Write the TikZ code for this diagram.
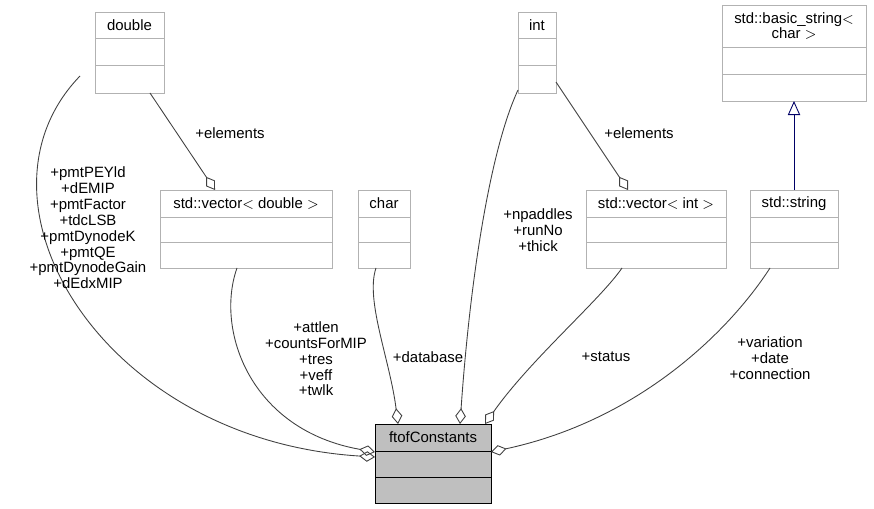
\documentclass[tikz,border=0pt]{standalone}
\usepackage{fontspec}
\setmainfont{Liberation Sans}
\usetikzlibrary{arrows.meta,calc,positioning}
\tikzset{
  cls/.style={draw=black!30, fill=white, inner sep=0pt, line width=0.5pt},
  main/.style={draw=black, fill=black!25, inner sep=0pt, line width=0.5pt},
  sep/.style={draw=black!30, line width=0.5pt},
  mainsep/.style={draw=black, line width=0.5pt},
  use/.style={draw=black!75, line width=0.5pt, {Diamond[open,length=9pt,width=6pt]}-},
  inherit/.style={draw=blue!40!black, line width=0.5pt, -{Triangle[open,length=8pt,width=7pt]}},
  lbl/.style={font=\fontsize{8.5}{9}\selectfont, align=center, inner sep=1pt},
  ttl/.style={font=\fontsize{8.5}{9}\selectfont, align=center, inner sep=0pt},
}
% box: name, left, top, right, bottom, title bottom, text, style
\newcommand\classbox[8]{%
  \node[#8, minimum width={(#4-#2)*0.02cm}, minimum height={(#5-#3)*0.02cm}]
    (#1) at ({(#2+#4)/2},{(#3+#5)/2}) {};
  \node[ttl] at ({(#2+#4)/2},{(#3+#6)/2}) {#7};
  \draw[#8, fill=none] (#2,#6) -- (#4,#6);
  \draw[#8, fill=none] (#2,{(#6+#5)/2}) -- (#4,{(#6+#5)/2});
}
\begin{document}
\begin{tikzpicture}[x=0.02cm,y=-0.02cm]
\useasboundingbox (0,0) rectangle (874,509);

% --- classes ---
\classbox{dbl}{95}{12}{164}{93}{38}{double}{cls}
\classbox{vecd}{160}{190}{332}{268}{217}{std::vector$<$ double $>$}{cls}
\classbox{chr}{358}{190}{410}{268}{217}{char}{cls}
\classbox{int}{518}{12}{556}{93}{38}{int}{cls}
\classbox{veci}{586}{190}{726}{268}{217}{std::vector$<$ int $>$}{cls}
\classbox{bstr}{722}{5}{866}{101}{47}{std::basic\_string$<$\\char $>$}{cls}
\classbox{str}{750}{190}{838}{268}{217}{std::string}{cls}
\classbox{ftof}{375}{424}{491}{503}{451}{ftofConstants}{main}

% --- members ---
\coordinate (d1) at (80,76);
\draw[use] (375,457) .. controls (100,440) and (-40,200) .. (d1);
\draw[use] (375,452) .. controls (250,430) and (215,330) .. (237,268);
\draw[use] (398,424) .. controls (390,360) and (365,300) .. (376,268);
\draw[use] (460,424) .. controls (470,280) and (490,150) .. (518,90);
\draw[use] (485,424) .. controls (530,360) and (600,300) .. (622,268);
\draw[use] (491,452) .. controls (640,420) and (730,330) .. (770,268);
\draw[use] (215,190) -- (150,93);
\draw[use] (628,190) -- (556,82);
\draw[inherit] (794,190) -- (794,101);

% --- labels ---
\node[lbl] at (88,228) {+pmtPEYld\\+dEMIP\\+pmtFactor\\+tdcLSB\\+pmtDynodeK\\+pmtQE\\+pmtDynodeGain\\+dEdxMIP};
\node[lbl] at (316,359) {+attlen\\+countsForMIP\\+tres\\+veff\\+twlk};
\node[lbl] at (428,357) {+database};
\node[lbl] at (538,230) {+npaddles\\+runNo\\+thick};
\node[lbl] at (606,357) {+status};
\node[lbl] at (770,358) {+variation\\+date\\+connection};
\node[lbl] at (230,133) {+elements};
\node[lbl] at (639,133) {+elements};
\end{tikzpicture}
\end{document}
